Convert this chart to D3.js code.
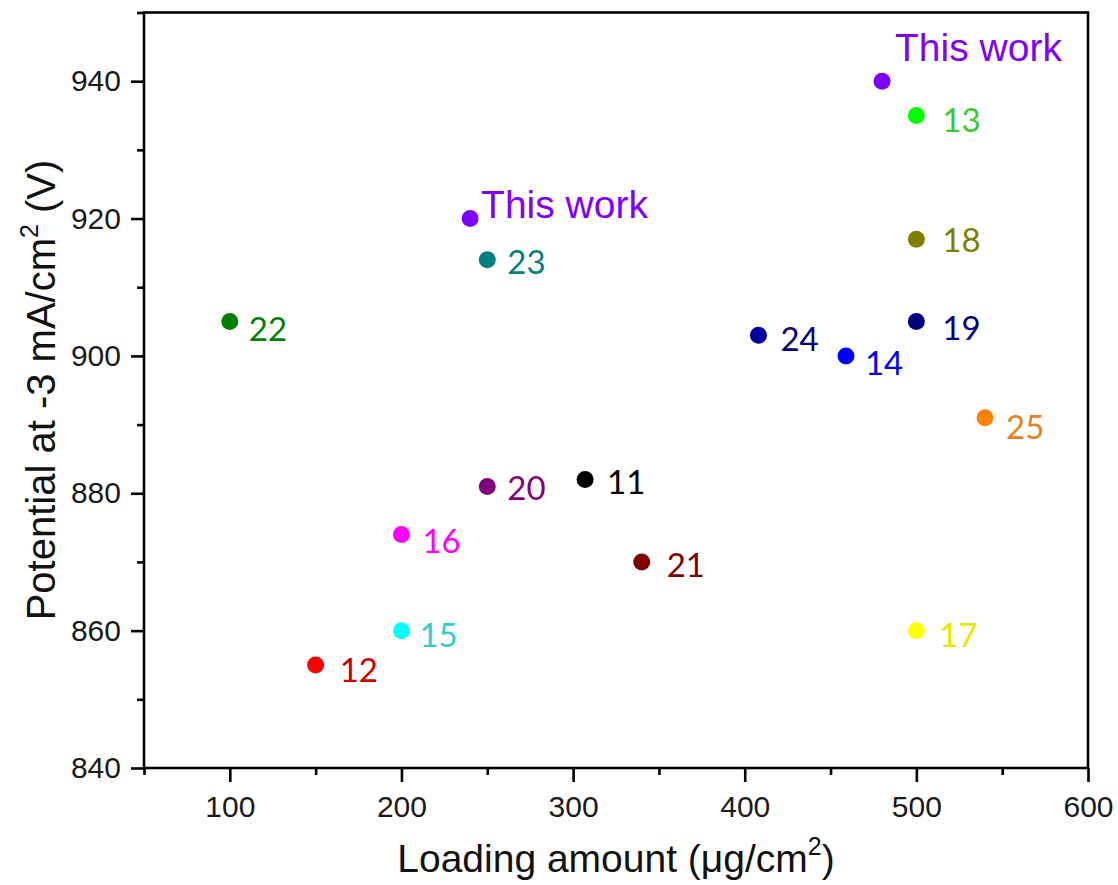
<!DOCTYPE html>
<html>
<head>
<meta charset="utf-8">
<script src="https://cdn.jsdelivr.net/npm/d3@7"></script>
<style>
  html, body { margin: 0; padding: 0; background: #fff; }
  svg { display: block; }
</style>
</head>
<body>
<svg id="chart" width="1118" height="885"></svg>
<script>
// Loading amount (µg/cm²) vs potential at -3 mA/cm² for each reported catalyst
const labels   = ["This work", "This work", "13", "18", "19", "24", "14", "25", "22", "23", "20", "11", "16", "21", "15", "12", "17"];
const loadings = [240, 480, 500, 500, 500, 408, 459, 540, 100, 250, 250, 307, 200, 340, 200, 150, 500];
const potentials = [920, 940, 935, 917, 905, 903, 900, 891, 905, 914, 881, 882, 874, 870, 860, 855, 860];
const dotColors = ["#8000ff", "#8000ff", "#00ff00", "#808000", "#000080", "#0000a0", "#0000ff", "#ff8000", "#008000", "#008080", "#800080", "#000000", "#ff00ff", "#800000", "#00ffff", "#ff0000", "#ffff00"];
const textColors = ["#8000ff", "#8000ff", "#33cc33", "#808000", "#000080", "#000080", "#0000ff", "#e67e22", "#008000", "#008080", "#800080", "#000000", "#ff00ff", "#800000", "#33cccc", "#cc0000", "#e6e600"];

const xTicks = [100, 200, 300, 400, 500, 600];
const xMinor = [50, 150, 250, 350, 450, 550];
const yTicks = [840, 860, 880, 900, 920, 940];
const yMinor = [850, 870, 890, 910, 930, 950];

const svg = d3.select("#chart");
const plotL = 144, plotR = 1088, plotT = 12.5, plotB = 768;

const x = d3.scaleLinear().domain([50, 600]).range([plotL, plotR]);
const y = d3.scaleLinear().domain([840, 950]).range([plotB, plotT]);

const axisFont = "'Liberation Sans', Arial, sans-serif";

// frame
svg.append("rect")
  .attr("x", plotL).attr("y", plotT)
  .attr("width", plotR - plotL).attr("height", plotB - plotT)
  .attr("fill", "none").attr("stroke", "#000").attr("stroke-width", 2.6);

// bottom axis: major ticks with labels, minor ticks without
svg.append("g").attr("transform", `translate(0,${plotB})`)
  .call(d3.axisBottom(x).tickValues(xTicks).tickSize(14).tickPadding(14).tickFormat(d3.format("d")));
svg.append("g").attr("transform", `translate(0,${plotB})`)
  .call(d3.axisBottom(x).tickValues(xMinor).tickSize(7).tickFormat(""));

// left axis
svg.append("g").attr("transform", `translate(${plotL},0)`)
  .call(d3.axisLeft(y).tickValues(yTicks).tickSize(13).tickPadding(10).tickFormat(d3.format("d")));
svg.append("g").attr("transform", `translate(${plotL},0)`)
  .call(d3.axisLeft(y).tickValues(yMinor).tickSize(7).tickFormat(""));

svg.selectAll(".domain").remove();
svg.selectAll(".tick line").attr("stroke", "#000").attr("stroke-width", 2.6);
svg.selectAll(".tick text")
  .attr("font-family", axisFont).attr("font-size", 30).attr("fill", "#1a1a1a");

// axis titles
const xt = svg.append("text")
  .attr("x", 616).attr("y", 872)
  .attr("text-anchor", "middle")
  .attr("font-family", axisFont).attr("font-size", 39).attr("fill", "#111");
xt.append("tspan").text("Loading amount (\u03bcg/cm");
xt.append("tspan").attr("font-size", 25).attr("dy", -17).text("2");
xt.append("tspan").attr("dy", 17).text(")");

const yt = svg.append("text")
  .attr("transform", "translate(55,390) rotate(-90)")
  .attr("text-anchor", "middle")
  .attr("font-family", axisFont).attr("font-size", 40).attr("fill", "#111");
yt.append("tspan").text("Potential at -3 mA/cm");
yt.append("tspan").attr("font-size", 25).attr("dy", -17).text("2");
yt.append("tspan").attr("dy", 17).text(" (V)");

// label placement beside each dot (dx, dy from the dot centre to the text's left-middle)
const labelOffset = {
  0: [11, -14], 1: [13, -34], 2: [26, 3], 3: [26, 0], 4: [26, 5], 5: [22, 3],
  6: [19, 6], 7: [21, 8], 8: [19, 6], 9: [20, 1], 10: [20, 1], 11: [22, 1],
  12: [21, 6], 13: [25, 2], 14: [18, 3], 15: [24, 4], 16: [23, 3]
};

const idx = d3.range(labels.length);

svg.append("g").selectAll("circle")
  .data(idx).join("circle")
  .attr("cx", i => x(loadings[i]))
  .attr("cy", i => y(potentials[i]))
  .attr("r", 8.5)
  .attr("fill", i => dotColors[i]);

svg.append("g").selectAll("text")
  .data(idx).join("text")
  .attr("x", i => x(loadings[i]) + labelOffset[i][0])
  .attr("y", i => y(potentials[i]) + labelOffset[i][1])
  .attr("dominant-baseline", "central")
  .attr("font-family", i => labels[i] === "This work" ? axisFont : "Lato, 'Open Sans', sans-serif")
  .attr("font-size", i => labels[i] === "This work" ? 39 : 33)
  .attr("fill", i => textColors[i])
  .text(i => labels[i]);
</script>
</body>
</html>
